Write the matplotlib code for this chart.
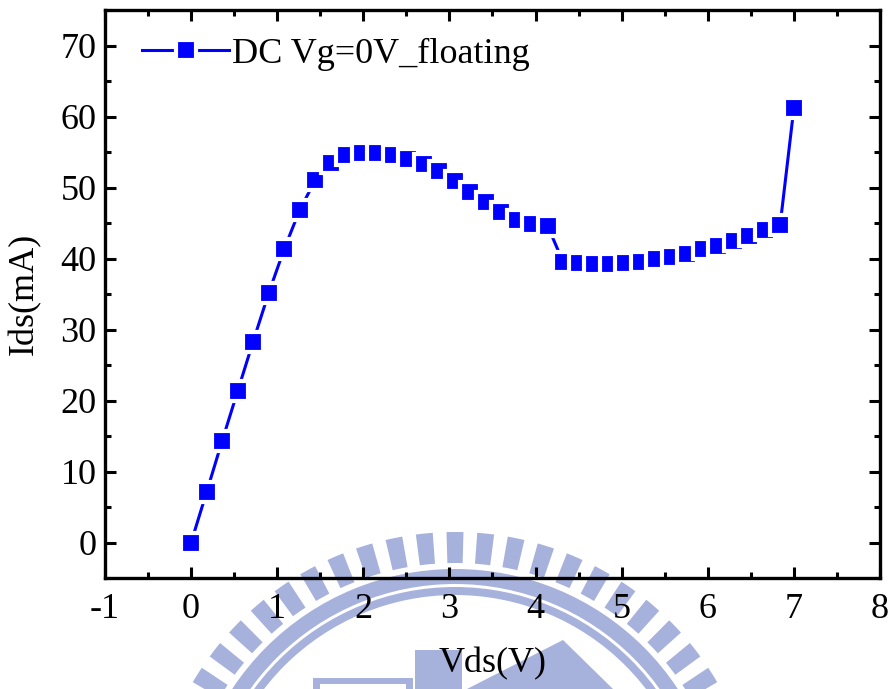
import numpy as np
import matplotlib
matplotlib.use('Agg')
import matplotlib.pyplot as plt
from matplotlib.patches import Wedge, Rectangle, Polygon
from matplotlib.ticker import MultipleLocator

# DC output sweep, floating gate at Vg = 0 V
vds = [0.00, 0.18, 0.36, 0.54, 0.72, 0.90, 1.08, 1.26, 1.44, 1.62,
       1.80, 1.98, 2.16, 2.34, 2.52, 2.70, 2.88, 3.06, 3.24, 3.42,
       3.60, 3.78, 3.96, 4.14, 4.32, 4.50, 4.68, 4.86, 5.04, 5.22,
       5.40, 5.58, 5.76, 5.94, 6.12, 6.30, 6.48, 6.66, 6.84, 7.00]
ids = [0.0, 7.1, 14.3, 21.3, 28.3, 35.1, 41.3, 46.8, 51.0, 53.5,
       54.6, 54.9, 54.9, 54.6, 54.0, 53.3, 52.3, 50.9, 49.3, 47.9,
       46.5, 45.4, 44.8, 44.6, 39.5, 39.3, 39.2, 39.2, 39.3, 39.5,
       39.9, 40.2, 40.7, 41.3, 41.8, 42.5, 43.1, 44.0, 44.7, 61.2]
series_label = 'DC Vg=0V_floating'

plt.rcParams['font.family'] = ['Liberation Serif', 'DejaVu Serif']
plt.rcParams['axes.unicode_minus'] = False

W, H = 890, 689
fig = plt.figure(figsize=(W / 100, H / 100), dpi=100)

# faint school emblem behind the plot (pixel coordinates, y up)
bg = fig.add_axes([0, 0, 1, 1], zorder=0)
bg.set_xlim(0, W)
bg.set_ylim(0, H)
bg.axis('off')
wm = '#a6b1dc'
cx, cy, R = 455, -147, 304
for ang in np.arange(3.0, 180, 5.8):
    bg.add_patch(Wedge((cx, cy), R, ang - 1.6, ang + 1.6, width=31, color=wm, lw=0))
bg.add_patch(Wedge((cx, cy), R - 37, 0, 180, width=15, color=wm, lw=0))
bg.add_patch(Wedge((cx, cy), R - 55, 0, 180, width=8, color=wm, lw=0))
bg.add_patch(Rectangle((415, 0), 47, 39, color=wm, lw=0))
bg.add_patch(Rectangle((313, 0), 100, 11, color=wm, lw=0))
bg.add_patch(Rectangle((320, 0), 86, 5, color='white', lw=0))
bg.add_patch(Polygon([(467, 0), (563, 49), (613, 0)], closed=True, color=wm, lw=0))

ax = fig.add_axes([105 / W, 1 - 578 / H, 775 / W, 568 / H], zorder=1)
ax.patch.set_alpha(0)

ax.plot(vds, ids, color='#0000ff', lw=2.2, marker='s', ms=14,
        mfc='#0000ff', mec='white', mew=3, label=series_label)

ax.set_xlim(-1, 8)
ax.set_ylim(-5, 75)
ax.xaxis.set_major_locator(MultipleLocator(1))
ax.xaxis.set_minor_locator(MultipleLocator(0.5))
ax.yaxis.set_major_locator(MultipleLocator(10))
ax.yaxis.set_minor_locator(MultipleLocator(5))

for sp in ax.spines.values():
    sp.set_linewidth(2.4)
ax.tick_params(which='both', direction='in', top=True, right=True, width=2.2)
ax.tick_params(which='major', length=8)
ax.tick_params(which='minor', length=4)
ax.tick_params(axis='x', which='major', labelsize=26, pad=11)
ax.tick_params(axis='y', which='major', labelsize=26, pad=6)

ax.set_xlabel('Vds(V)', fontsize=26)
ax.set_ylabel('Ids(mA)', fontsize=26)
ax.xaxis.set_label_coords(0.5, -0.122)
ax.yaxis.set_label_coords(-0.082, 0.5)

ax.legend(loc='upper left', bbox_to_anchor=(0.02, 0.99), frameon=False,
          fontsize=26, numpoints=1, handlelength=2.4, handletextpad=0.1,
          borderaxespad=0.2)

fig.savefig('out.png', dpi=100)
